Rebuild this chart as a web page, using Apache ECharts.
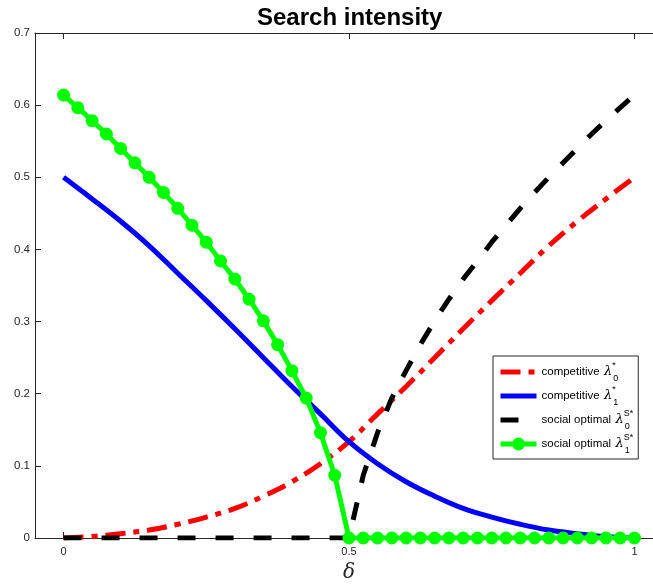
<!DOCTYPE html>
<html>
<head>
<meta charset="utf-8">
<script src="https://cdn.jsdelivr.net/npm/echarts@6/dist/echarts.min.js"></script>
<style>
  html, body { margin: 0; padding: 0; background: #fff; }
  #chart { width: 653px; height: 584px; }
</style>
</head>
<body>
<div id="chart"></div>
<script>
// delta grid for the curves read at step 0.05
const deltaCoarse = [0, 0.05, 0.1, 0.15, 0.2, 0.25, 0.3, 0.35, 0.4, 0.45, 0.5,
    0.55, 0.6, 0.65, 0.7, 0.75, 0.8, 0.85, 0.9, 0.95, 1];
// delta grid for the social optimum (step 0.025)
const deltaFine = [0, 0.025, 0.05, 0.075, 0.1, 0.125, 0.15, 0.175, 0.2, 0.225, 0.25,
    0.275, 0.3, 0.325, 0.35, 0.375, 0.4, 0.425, 0.45, 0.475, 0.5,
    0.525, 0.55, 0.575, 0.6, 0.625, 0.65, 0.675, 0.7, 0.725, 0.75,
    0.775, 0.8, 0.825, 0.85, 0.875, 0.9, 0.925, 0.95, 0.975, 1];

const compLambda0 = [0, 0.002, 0.006, 0.011, 0.019, 0.029, 0.041, 0.058, 0.078, 0.103, 0.1335,
    0.172, 0.21, 0.25, 0.29, 0.329, 0.367, 0.405, 0.439, 0.47, 0.5];
const compLambda1 = [0.5, 0.47, 0.439, 0.405, 0.367, 0.329, 0.29, 0.25, 0.21, 0.172, 0.1335,
    0.103, 0.078, 0.058, 0.041, 0.029, 0.019, 0.011, 0.006, 0.002, 0];
const socLambda0 = [0, 0, 0, 0, 0, 0, 0, 0, 0, 0, 0, 0, 0, 0, 0, 0, 0, 0, 0, 0, 0,
    0.087, 0.146, 0.194, 0.232, 0.268, 0.301, 0.331, 0.359, 0.384, 0.41,
    0.4335, 0.457, 0.479, 0.5, 0.52, 0.54, 0.56, 0.5785, 0.5965, 0.614];
const socLambda1 = [0.614, 0.5965, 0.5785, 0.56, 0.54, 0.52, 0.5, 0.479, 0.457, 0.4335, 0.41,
    0.384, 0.359, 0.331, 0.301, 0.268, 0.232, 0.194, 0.146, 0.087, 0,
    0, 0, 0, 0, 0, 0, 0, 0, 0, 0, 0, 0, 0, 0, 0, 0, 0, 0, 0, 0];

const xTicks = [0, 0.5, 1];
const seriesNames = ['competitive λ0*', 'competitive λ1*', 'social optimal λ0S*', 'social optimal λ1S*'];
const legendRich = {
    'competitive λ0*': '{t|competitive} {l|λ}{p|*}{b|0}',
    'competitive λ1*': '{t|competitive} {l|λ}{p|*}{b|1}',
    'social optimal λ0S*': '{t|social optimal} {l|λ}{p|S*}{b|0}',
    'social optimal λ1S*': '{t|social optimal} {l|λ}{p|S*}{b|1}'
};

function pairs(xs, ys) {
    return xs.map(function (x, i) { return [x, ys[i]]; });
}

const axisColor = '#262626';
const chart = echarts.init(document.getElementById('chart'));

const axisBase = {
    type: 'value',
    min: -0.05,
    max: 1.05,
    axisLine: { show: true, onZero: false, lineStyle: { color: axisColor, width: 1 } },
    axisTick: { show: true, inside: true, length: 6, customValues: xTicks, lineStyle: { color: axisColor } },
    splitLine: { show: false }
};

chart.setOption({
    animation: false,
    backgroundColor: '#fff',
    title: {
        text: 'Search intensity',
        left: 257,
        top: 6,
        padding: 0,
        textStyle: { fontFamily: 'Liberation Sans', fontWeight: 'bold', fontSize: 24, color: '#000' }
    },
    grid: { left: 35, top: 33, width: 628, height: 505, outerBoundsMode: 'none' },
    xAxis: [
        Object.assign({}, axisBase, {
            position: 'bottom',
            name: 'δ',
            nameLocation: 'middle',
            nameGap: 25,
            nameTextStyle: { fontFamily: 'DejaVu Serif', fontStyle: 'italic', fontSize: 20, color: axisColor },
            axisLabel: { show: true, customValues: xTicks, margin: 8, fontFamily: 'Liberation Sans', fontSize: 11, color: axisColor }
        }),
        Object.assign({}, axisBase, {
            position: 'top',
            axisLabel: { show: false }
        })
    ],
    yAxis: [{
        type: 'value',
        min: 0,
        max: 0.7,
        interval: 0.1,
        axisLine: { show: true, onZero: false, lineStyle: { color: axisColor, width: 1 } },
        axisTick: { show: true, inside: true, length: 6, lineStyle: { color: axisColor } },
        axisLabel: { margin: 5, fontFamily: 'Liberation Sans', fontSize: 11.5, color: axisColor },
        splitLine: { show: false }
    }],
    legend: {
        orient: 'vertical',
        left: 493,
        top: 356,
        padding: [5, 5, 4, 5],
        itemGap: 2,
        itemWidth: 36,
        itemHeight: 16,
        backgroundColor: '#fff',
        borderColor: axisColor,
        borderWidth: 1,
        borderRadius: 0,
        data: [
            { name: seriesNames[0], itemStyle: { opacity: 0 } },
            { name: seriesNames[1], itemStyle: { opacity: 0 } },
            { name: seriesNames[2], itemStyle: { opacity: 0 } },
            { name: seriesNames[3] }
        ],
        lineStyle: { width: 5 },
        formatter: function (name) { return legendRich[name]; },
        textStyle: {
            rich: {
                t: { fontFamily: 'Liberation Sans', fontSize: 11.5, color: '#000', lineHeight: 22 },
                l: { fontFamily: 'DejaVu Serif', fontStyle: 'italic', fontSize: 13, color: '#000', lineHeight: 22, padding: [0, 0, 0, 1] },
                p: { fontFamily: 'Liberation Sans', fontSize: 9, color: '#000', lineHeight: 22, verticalAlign: 'top', width: 1 },
                b: { fontFamily: 'Liberation Sans', fontSize: 9, color: '#000', lineHeight: 22, verticalAlign: 'bottom', width: 8 }
            }
        }
    },
    series: [
        {
            name: seriesNames[0],
            type: 'line',
            data: pairs(deltaCoarse, compLambda0),
            smooth: 0.4,
            symbol: 'none',
            lineStyle: { color: '#ff0000', width: 5, type: [20, 8, 6, 8] },
            itemStyle: { color: '#ff0000' }
        },
        {
            name: seriesNames[1],
            type: 'line',
            data: pairs(deltaCoarse, compLambda1),
            smooth: 0.4,
            symbol: 'none',
            lineStyle: { color: '#0000ff', width: 5 },
            itemStyle: { color: '#0000ff' }
        },
        {
            name: seriesNames[2],
            type: 'line',
            data: pairs(deltaFine, socLambda0),
            symbol: 'none',
            lineStyle: { color: '#000000', width: 5, type: [18, 20] },
            itemStyle: { color: '#000000' }
        },
        {
            name: seriesNames[3],
            type: 'line',
            data: pairs(deltaFine, socLambda1),
            symbol: 'circle',
            symbolSize: 13,
            showAllSymbol: true,
            lineStyle: { color: '#00ff00', width: 5 },
            itemStyle: { color: '#00ff00' }
        }
    ]
});
</script>
</body>
</html>
